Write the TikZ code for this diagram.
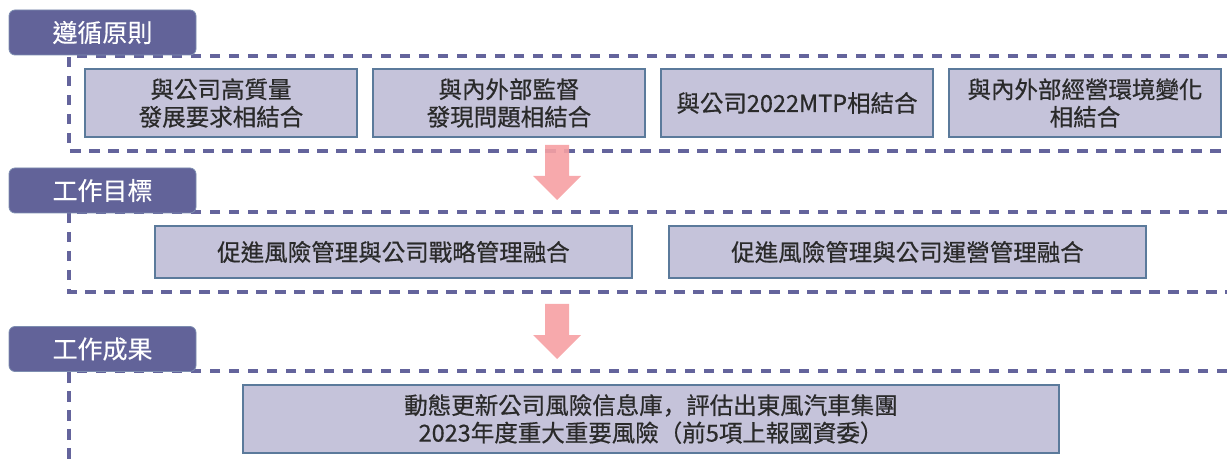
\documentclass[tikz,border=0pt]{standalone}
\usepackage{fontspec}
\newfontfamily\cjk[FakeBold=0.6]{Noto Sans CJK TC}
\newfontfamily\cjksc[FakeBold=0.6]{Noto Sans CJK SC}
\newfontfamily\cjktab[FakeBold=0.3]{Noto Sans CJK TC}
\definecolor{tabc}{HTML}{626399}
\definecolor{tabedge}{HTML}{7D8DB0}
\definecolor{dashc}{HTML}{64649C}
\definecolor{boxfill}{HTML}{C5C3DA}
\definecolor{boxedge}{HTML}{5B7A9B}
\definecolor{arrowc}{HTML}{F6A0A3}
\definecolor{txt}{HTML}{2A2A2A}
\tikzset{
  tabbox/.style={fill=tabc, draw=tabedge, line width=0.8pt, rounded corners=6pt,
    minimum width=187pt, minimum height=45pt, inner sep=0pt, text=white,
    font=\cjktab\fontsize{25}{29}\selectfont},
  itembox/.style={fill=boxfill, draw=boxedge, line width=1.6pt, inner sep=0pt,
    text=txt, align=center, font=\cjk\fontsize{23.5}{27.5}\selectfont},
  frame/.style={draw=dashc, line width=3.3pt, dash pattern=on 10.5pt off 8.5pt},
  blockarrow/.style={fill=arrowc, draw=none, opacity=0.9}
}
\begin{document}
\begin{tikzpicture}[x=1pt,y=1pt,yscale=-1]
\useasboundingbox (0,0) rectangle (1227,465);
% dashed frames
\coordinate (f1a) at (1227,56);
\coordinate (f1b) at (69,56);
\coordinate (f1c) at (69,151);
\coordinate (f1d) at (1227,151);
\draw[frame] (f1a) -- (f1b) -- (f1c) -- (f1d);
\coordinate (f2a) at (1227,212);
\coordinate (f2b) at (69,212);
\coordinate (f2c) at (69,292);
\coordinate (f2d) at (1227,292);
\draw[frame] (f2a) -- (f2b) -- (f2c) -- (f2d);
\coordinate (f3a) at (1227,371);
\coordinate (f3b) at (69,371);
\coordinate (f3c) at (69,465);
\draw[frame] (f3a) -- (f3b) -- (f3c);
% tabs
\node[tabbox] (t1) at (102.5,32.5) {遵循原則};
\node[tabbox] (t2) at (102.5,190.5) {工作目標};
\node[tabbox] (t3) at (102.5,349) {工作成果};
% row 1
\node[itembox, minimum width=272pt, minimum height=68pt] (b1) at (221,103) {與公司高質量\\發展要求相結合};
\node[itembox, minimum width=272pt, minimum height=68pt] (b2) at (509,103) {與內外部監督\\發現問題相結合};
\node[itembox, minimum width=272pt, minimum height=68pt] (b3) at (797,103) {與公司2022MTP相結合};
\node[itembox, minimum width=272pt, minimum height=68pt] (b4) at (1085,103) {與內外部經營環境變化\\相結合};
% row 2
\node[itembox, minimum width=477pt, minimum height=52pt] (c1) at (393.5,252) {促進風險管理與公司戰略管理融合};
\node[itembox, minimum width=477pt, minimum height=52pt] (c2) at (907.5,252) {促進風險管理與公司運營管理融合};
% row 3
\node[itembox, minimum width=816pt, minimum height=68pt] (d1) at (651,419) {動態更新公司風險信息庫{\cjksc ，}評估出東風汽車集團\\2023年度重大重要風險（前5項上報國資委）};
% block arrows
\fill[blockarrow] (545,145) -- (569,145) -- (569,176) -- (581,176) -- (557,200) -- (533,176) -- (545,176) -- cycle;
\fill[blockarrow] (545,304) -- (569,304) -- (569,335) -- (581,335) -- (557,359) -- (533,335) -- (545,335) -- cycle;
\end{tikzpicture}
\end{document}
